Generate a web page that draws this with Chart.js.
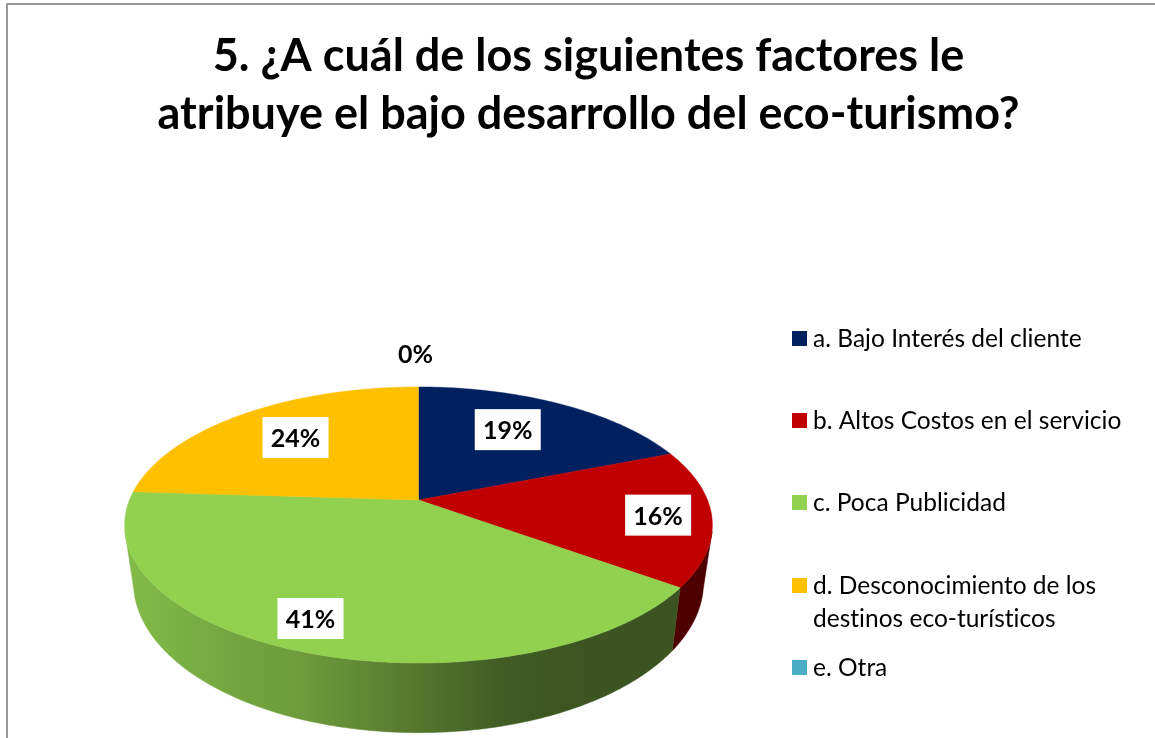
<!DOCTYPE html>
<html><head><meta charset="utf-8">
<style>html,body{margin:0;padding:0;background:#fff;overflow:hidden}canvas{display:block}</style>
<script src="https://cdn.jsdelivr.net/npm/chart.js@4"></script>
</head><body><canvas id="c" width="1155" height="738"></canvas>
<script>
const titleLines = ['5. ¿A cuál de los siguientes factores le', 'atribuye el bajo desarrollo del eco-turismo?'];
const categories = ['a. Bajo Interés del cliente', 'b. Altos Costos en el servicio', 'c. Poca Publicidad', 'd. Desconocimiento de los destinos eco-turísticos', 'e. Otra'];
const legendLines = [['a. Bajo Interés del cliente'], ['b. Altos Costos en el servicio'], ['c. Poca Publicidad'], ['d. Desconocimiento de los', 'destinos eco-turísticos'], ['e. Otra']];
const values = [19, 16, 41, 24, 0];
const colors = ['#002060', '#C00000', '#92D050', '#FFC000', '#4BACC6'];

// drawing style: perspective of the tilted pie
const P = {cx: 418.5, cy: 500, A: 289, B: 133.5, k: -0.181, depth: 55, sx: 0.97, sy: 1.09, wallFrom: 103, wallTo: 257};
const labelRadius = [0.71, 0.80, 0.81, 0.695, 1.36];
const labelNudge = [[-15, 1], [6, 2], [-16, 1], [3, 0], [-3, 0]];
const shadeStops = [[125, .90], [240, .79], [300, .75], [400, .60], [500, .445], [560, .41], [713, .40]];
const legendRows = [338.5, 420.5, 502.5, 585.5, 667.5];

function project(theta, r) {
  const u = Math.sin(theta) * r, v = -Math.cos(theta) * r, d = 1 + P.k * v;
  return [P.A * u / d, P.B * v / d];
}
const top_ = (t, r = 1) => { const [x, y] = project(t, r); return [P.cx + x, P.cy + y]; };
const low_ = t => { const [x, y] = project(t, 1); return [P.cx + x * P.sx, P.cy + P.depth + y * P.sy]; };
const D = Math.PI / 180;

function shade(ctx, hex) {
  const n = parseInt(hex.slice(1), 16), g = ctx.createLinearGradient(125, 0, 713, 0);
  shadeStops.forEach(([x, f]) => {
    g.addColorStop((x - 125) / 588, `rgb(${(n >> 16) * f},${((n >> 8) & 255) * f},${(n & 255) * f})`);
  });
  return g;
}

const pie3d = {
  id: 'pie3d',
  beforeDatasetsDraw(chart) {
    const ctx = chart.ctx, arcs = chart.getDatasetMeta(0).data;
    const ang = arcs.map(a => [a.startAngle + Math.PI / 2, a.endAngle + Math.PI / 2]);
    ctx.save();
    // outer wall
    arcs.forEach((a, i) => {
      const s = Math.max(ang[i][0], P.wallFrom * D), e = Math.min(ang[i][1], P.wallTo * D);
      if (e <= s) return;
      ctx.beginPath();
      const n = Math.ceil((e - s) / D) + 1;
      for (let j = 0; j <= n; j++) { const p = top_(s + (e - s) * j / n); j ? ctx.lineTo(...p) : ctx.moveTo(...p); }
      for (let j = n; j >= 0; j--) ctx.lineTo(...low_(s + (e - s) * j / n));
      ctx.closePath();
      const f = shade(ctx, colors[i]);
      ctx.fillStyle = f; ctx.strokeStyle = f; ctx.lineWidth = .5;
      ctx.fill(); ctx.stroke();
    });
    // top face
    arcs.forEach((a, i) => {
      const [s, e] = ang[i];
      if (e - s <= 0) return;
      ctx.beginPath(); ctx.moveTo(P.cx, P.cy);
      const n = Math.ceil((e - s) / D) + 1;
      for (let j = 0; j <= n; j++) ctx.lineTo(...top_(s + (e - s) * j / n));
      ctx.closePath();
      ctx.fillStyle = colors[i]; ctx.strokeStyle = colors[i]; ctx.lineWidth = .5;
      ctx.fill(); ctx.stroke();
    });
    // value labels
    ctx.font = 'bold 25px Lato'; ctx.textAlign = 'center'; ctx.textBaseline = 'middle';
    arcs.forEach((a, i) => {
      const m = (ang[i][0] + ang[i][1]) / 2, [x0, y0] = top_(m, labelRadius[i]);
      const x = x0 + labelNudge[i][0], y = y0 + labelNudge[i][1];
      if (values[i] > 0) { ctx.fillStyle = '#fff'; ctx.fillRect(x - 33, y - 21, 66, 41); }
      ctx.fillStyle = '#000';
      ctx.fillText(values[i] + '%', x, y + 1);
    });
    ctx.restore();
    return false;
  },
  afterDraw(chart) {
    const ctx = chart.ctx;
    ctx.save();
    // frame
    ctx.strokeStyle = '#999'; ctx.lineWidth = 2;
    ctx.beginPath(); ctx.moveTo(7, 738); ctx.lineTo(7, 4); ctx.lineTo(1155, 4); ctx.stroke();
    // legend
    ctx.font = '24.5px Lato'; ctx.letterSpacing = '0.01px'; ctx.textAlign = 'left'; ctx.textBaseline = 'middle';
    legendLines.forEach((lines, i) => {
      ctx.fillStyle = colors[i];
      ctx.fillRect(792, legendRows[i] - 7.5, 15, 15);
      ctx.fillStyle = '#000';
      lines.forEach((t, j) => ctx.fillText(t, 813, legendRows[i] + 1 + j * 33));
    });
    ctx.restore();
  }
};

new Chart(document.getElementById('c'), {
  type: 'pie',
  data: {labels: categories, datasets: [{data: values, backgroundColor: colors, borderWidth: 0}]},
  options: {
    responsive: false, animation: false,
    layout: {padding: {left: 22, top: 27}},
    plugins: {
      legend: {display: false}, tooltip: {enabled: false},
      title: {display: true, text: titleLines, color: '#000', align: 'center',
        font: {family: 'Lato', size: 45, weight: 'bold', lineHeight: 1.29}, padding: 0}
    }
  },
  plugins: [pie3d]
});
</script></body></html>
